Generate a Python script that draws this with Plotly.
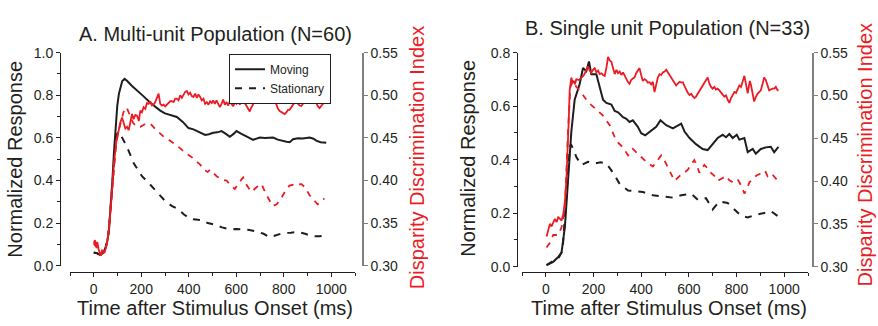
import plotly.graph_objects as go

# ---------------- Panel A: Multi-unit population ----------------
a_mov_t = [0, 15, 28, 40, 50, 58, 64, 71, 78, 85, 92, 99, 106, 113, 120, 130, 140, 160, 182, 210, 238, 260,
           280, 300, 322, 350, 375, 399, 420, 434, 450, 469, 485, 503, 520, 538, 555, 573, 590, 601, 620,
           636, 655, 671, 685, 699, 720, 740, 755, 775, 797, 812, 825, 839, 860, 880, 909, 925, 937, 955, 979]
a_mov_r = [0.062, 0.058, 0.050, 0.060, 0.085, 0.120, 0.168, 0.270, 0.390, 0.530, 0.660, 0.750, 0.808, 0.845,
           0.867, 0.877, 0.868, 0.845, 0.825, 0.795, 0.765, 0.745, 0.728, 0.715, 0.706, 0.698, 0.675, 0.646,
           0.640, 0.632, 0.622, 0.614, 0.617, 0.624, 0.626, 0.632, 0.620, 0.605, 0.620, 0.632, 0.620, 0.609,
           0.600, 0.591, 0.598, 0.602, 0.600, 0.603, 0.602, 0.592, 0.584, 0.582, 0.580, 0.594, 0.598, 0.597,
           0.602, 0.596, 0.587, 0.580, 0.577]

a_sta_t = [0, 15, 28, 40, 50, 58, 64, 71, 78, 85, 92, 99, 105, 120, 141, 169, 203, 230, 252, 280, 301, 330,
           356, 380, 406, 430, 455, 480, 503, 540, 573, 600, 628, 655, 685, 715, 741, 770, 796, 830, 859,
           890, 922, 950, 971]
a_sta_r = [0.062, 0.058, 0.050, 0.060, 0.085, 0.120, 0.168, 0.270, 0.390, 0.500, 0.580, 0.620, 0.630, 0.600,
           0.555, 0.480, 0.420, 0.390, 0.362, 0.330, 0.303, 0.280, 0.265, 0.240, 0.220, 0.217, 0.214, 0.200,
           0.194, 0.180, 0.171, 0.172, 0.171, 0.168, 0.161, 0.150, 0.134, 0.145, 0.153, 0.155, 0.158, 0.150,
           0.138, 0.138, 0.141]

a_mov_ddi_t = [0, 5, 10, 15, 20, 28, 35, 45, 55, 65, 75, 85, 95, 105, 112, 119, 126, 133, 140, 147, 154, 161,
               168, 175, 182, 190, 196, 203, 210, 217, 224, 231, 238, 245, 252, 259, 266, 273, 280, 287, 294,
               301, 308, 315, 322, 329, 336, 343, 350, 357, 364, 371, 378, 385, 392, 399, 406, 413, 420, 427,
               434, 441, 448, 455, 462, 469, 476, 483, 490, 497, 503, 510, 517, 524, 531, 538, 545, 552, 559,
               566, 573, 580, 587, 594, 601, 608, 615, 622, 629, 636, 643, 650, 657, 664, 671, 678, 685, 692,
               699, 706, 713, 720, 727, 734, 741, 748, 755, 762, 769, 776, 783, 790, 797, 804, 811, 818, 825,
               832, 839, 846, 853, 860, 867, 874, 881, 888, 895, 902, 909, 916, 923, 930, 937, 944, 951, 958,
               965, 972, 979]
a_mov_ddi = [0.326, 0.330, 0.322, 0.328, 0.320, 0.312, 0.318, 0.315, 0.325, 0.345, 0.380, 0.420, 0.445, 0.459,
             0.468, 0.474, 0.467, 0.461, 0.463, 0.459, 0.468, 0.478, 0.472, 0.477, 0.476, 0.470, 0.482, 0.480,
             0.486, 0.484, 0.491, 0.490, 0.493, 0.488, 0.489, 0.492, 0.497, 0.502, 0.490, 0.488, 0.489, 0.487,
             0.489, 0.491, 0.493, 0.493, 0.492, 0.496, 0.496, 0.494, 0.500, 0.497, 0.501, 0.504, 0.505, 0.501,
             0.503, 0.499, 0.498, 0.502, 0.497, 0.501, 0.498, 0.494, 0.496, 0.490, 0.492, 0.489, 0.493, 0.491,
             0.494, 0.490, 0.494, 0.489, 0.486, 0.490, 0.495, 0.489, 0.492, 0.488, 0.493, 0.490, 0.487, 0.492,
             0.490, 0.493, 0.489, 0.493, 0.495, 0.491, 0.488, 0.485, 0.481, 0.486, 0.490, 0.493, 0.496, 0.498,
             0.500, 0.497, 0.499, 0.502, 0.500, 0.496, 0.498, 0.501, 0.497, 0.495, 0.489, 0.484, 0.4815, 0.480,
             0.479, 0.478, 0.480, 0.483, 0.483, 0.487, 0.489, 0.491, 0.493, 0.490, 0.488, 0.4875, 0.490, 0.494,
             0.493, 0.4945, 0.491, 0.495, 0.493, 0.495, 0.490, 0.487, 0.485, 0.488, 0.490, 0.491, 0.4935]

a_sta_ddi_t = [0, 10, 20, 28, 40, 55, 65, 75, 85, 95, 105, 115, 125, 138, 150, 165, 180, 196, 215, 238, 260,
               280, 300, 320, 336, 355, 375, 392, 410, 434, 450, 462, 480, 490, 517, 540, 559, 575, 594, 610,
               629, 645, 664, 685, 706, 727, 740, 754, 770, 789, 805, 824, 840, 853, 873, 890, 908, 925, 943,
               960, 971]
a_sta_ddi = [0.326, 0.322, 0.320, 0.312, 0.316, 0.325, 0.345, 0.380, 0.420, 0.445, 0.459, 0.470, 0.480, 0.486,
             0.478, 0.468, 0.463, 0.463, 0.466, 0.467, 0.460, 0.455, 0.450, 0.447, 0.444, 0.440, 0.435, 0.431,
             0.428, 0.422, 0.418, 0.4127, 0.410, 0.4127, 0.405, 0.401, 0.400, 0.395, 0.390, 0.397, 0.4035, 0.394,
             0.3867, 0.392, 0.396, 0.383, 0.376, 0.370, 0.372, 0.379, 0.387, 0.394, 0.395, 0.394, 0.396, 0.392,
             0.383, 0.378, 0.372, 0.376, 0.379]

# ---------------- Panel B: Single unit population ----------------
b_mov_t = [3, 31, 52, 66, 80, 93, 107, 121, 142, 156, 170, 181, 191, 212, 226, 240, 254, 275, 289, 303, 324,
           338, 351, 365, 386, 400, 417, 435, 463, 481, 505, 533, 568, 582, 603, 630, 658, 679, 700, 721, 742,
           756, 770, 784, 801, 812, 833, 847, 868, 881, 902, 923, 944, 958, 976]
b_mov_r = [0.006, 0.018, 0.036, 0.053, 0.149, 0.327, 0.505, 0.624, 0.683, 0.743, 0.731, 0.767, 0.719, 0.719,
           0.672, 0.624, 0.612, 0.606, 0.582, 0.577, 0.559, 0.553, 0.541, 0.547, 0.523, 0.499, 0.491, 0.505,
           0.523, 0.547, 0.529, 0.517, 0.535, 0.505, 0.481, 0.458, 0.440, 0.436, 0.458, 0.481, 0.493, 0.484,
           0.496, 0.481, 0.493, 0.475, 0.481, 0.428, 0.440, 0.422, 0.440, 0.446, 0.448, 0.428, 0.448]

b_sta_t = [3, 30, 55, 70, 86, 100, 105, 115, 128, 149, 177, 205, 230, 254, 282, 310, 345, 372, 407, 449, 491,
           533, 568, 610, 638, 672, 700, 728, 763, 784, 819, 847, 881, 923, 944, 976]
b_sta_r = [0.006, 0.020, 0.035, 0.060, 0.268, 0.440, 0.458, 0.440, 0.410, 0.380, 0.392, 0.386, 0.390, 0.386,
           0.351, 0.309, 0.285, 0.282, 0.279, 0.267, 0.262, 0.258, 0.267, 0.273, 0.250, 0.256, 0.214, 0.244,
           0.238, 0.220, 0.190, 0.184, 0.194, 0.202, 0.208, 0.187]

b_mov_ddi_t = [3, 17, 24, 38, 45, 52, 59, 66, 73, 80, 86, 91, 96, 100, 107, 112, 117, 122, 128, 138, 149, 158,
               167, 177, 184, 191, 198, 205, 212, 219, 226, 233, 240, 247, 254, 261, 268, 275, 282, 289, 296,
               303, 310, 317, 324, 331, 338, 344, 351, 358, 365, 372, 379, 386, 393, 400, 407, 414, 421, 428,
               435, 442, 449, 456, 463, 470, 477, 484, 491, 498, 505, 512, 519, 526, 533, 540, 547, 554, 561,
               568, 575, 582, 589, 596, 603, 610, 617, 624, 630, 637, 644, 651, 658, 665, 672, 679, 686, 693,
               700, 707, 714, 721, 728, 735, 742, 749, 756, 763, 770, 777, 784, 791, 798, 805, 812, 819, 826,
               833, 840, 847, 852, 856, 861, 866, 874, 881, 888, 895, 902, 909, 916, 923, 930, 937, 944, 951,
               958, 965, 970, 976]
b_mov_ddi = [0.3353, 0.350, 0.347, 0.3557, 0.352, 0.3576, 0.356, 0.3539, 0.3613, 0.376, 0.400, 0.428, 0.470,
             0.506, 0.521, 0.515, 0.5173, 0.513, 0.519, 0.518, 0.521, 0.523, 0.528, 0.534, 0.529, 0.5266, 0.530,
             0.532, 0.527, 0.529, 0.525, 0.526, 0.524, 0.523, 0.532, 0.545, 0.541, 0.5395, 0.532, 0.525, 0.530,
             0.526, 0.528, 0.524, 0.527, 0.523, 0.519, 0.516, 0.5136, 0.518, 0.520, 0.521, 0.526, 0.530, 0.532,
             0.524, 0.517, 0.519, 0.518, 0.515, 0.5155, 0.513, 0.516, 0.504, 0.512, 0.521, 0.525, 0.524, 0.527,
             0.528, 0.530, 0.527, 0.523, 0.521, 0.518, 0.514, 0.5117, 0.514, 0.516, 0.515, 0.5155, 0.511, 0.506,
             0.503, 0.5006, 0.502, 0.499, 0.497, 0.4987, 0.502, 0.505, 0.508, 0.512, 0.516, 0.519, 0.521, 0.514,
             0.510, 0.508, 0.510, 0.507, 0.508, 0.506, 0.504, 0.501, 0.4987, 0.500, 0.495, 0.4913, 0.497, 0.500,
             0.504, 0.503, 0.508, 0.5117, 0.510, 0.517, 0.523, 0.513, 0.5025, 0.511, 0.517, 0.512, 0.503, 0.493,
             0.498, 0.502, 0.504, 0.506, 0.513, 0.521, 0.518, 0.512, 0.506, 0.507, 0.508, 0.508, 0.510, 0.507,
             0.5055]

b_sta_ddi_t = [3, 17, 31, 52, 66, 80, 93, 103, 114, 128, 142, 156, 170, 190, 212, 226, 240, 254, 268, 282, 296,
               310, 324, 345, 365, 393, 421, 449, 466, 484, 498, 512, 526, 540, 554, 568, 582, 596, 609, 623,
               637, 644, 654, 665, 679, 693, 707, 721, 738, 756, 770, 784, 798, 805, 819, 833, 843, 854, 868,
               881, 895, 909, 920, 930, 940, 951, 965, 976]
b_sta_ddi = [0.3223, 0.3279, 0.337, 0.337, 0.346, 0.369, 0.458, 0.510, 0.517, 0.510, 0.506, 0.500, 0.495, 0.489,
             0.484, 0.480, 0.4765, 0.471, 0.4653, 0.456, 0.4467, 0.443, 0.4393, 0.430, 0.4375, 0.430, 0.4226,
             0.417, 0.423, 0.430, 0.424, 0.4152, 0.408, 0.4003, 0.404, 0.4077, 0.410, 0.4133, 0.419, 0.4245,
             0.416, 0.4096, 0.414, 0.4189, 0.415, 0.4096, 0.406, 0.4003, 0.403, 0.4059, 0.401, 0.3985, 0.401,
             0.402, 0.395, 0.3855, 0.390, 0.3985, 0.402, 0.4059, 0.408, 0.4096, 0.412, 0.4059, 0.409, 0.4077,
             0.403, 0.4003]

# ---------------- Text ----------------
title_a = "A. Multi-unit Population (N=60)"
title_b = "B. Single unit Population (N=33)"
x_title = "Time after Stimulus Onset (ms)"
y_title = "Normalized Response"
y2_title = "Disparity Discrimination Index"

BLACK = "#1e1e1e"
RED = "#ec1c24"
GREY = "#808080"
TXT = "#231f20"
FONT = "Liberation Sans, Arial, sans-serif"
DASH_K = "7px,7px"
DASH_R = "6px,6px"

W, H = 878, 326
def fx(px):
    return px / W
def fy(py):
    return 1 - py / H

fig = go.Figure()

def add(t, v, xa, ya, color, dash, name=None, show=False, width=2):
    fig.add_trace(go.Scatter(x=t, y=v, xaxis=xa, yaxis=ya, mode="lines",
                             line=dict(color=color, width=width, dash=dash),
                             name=name, showlegend=show, hoverinfo="skip"))

add(a_mov_t, a_mov_r, "x", "y", BLACK, "solid", "Moving", True)
add(a_sta_t, a_sta_r, "x", "y", BLACK, DASH_K, "Stationary", True)
add(a_mov_ddi_t, a_mov_ddi, "x", "y2", RED, "solid", width=1.8)
add(a_sta_ddi_t, a_sta_ddi, "x", "y2", RED, DASH_R, width=1.8)

add(b_mov_t, b_mov_r, "x2", "y3", BLACK, "solid")
add(b_sta_t, b_sta_r, "x2", "y3", BLACK, DASH_K)
add(b_mov_ddi_t, b_mov_ddi, "x2", "y4", RED, "solid", width=1.8)
add(b_sta_ddi_t, b_sta_ddi, "x2", "y4", RED, DASH_R, width=1.8)

tickfont = dict(family=FONT, size=14, color=TXT)

def xaxis(dom):
    return dict(domain=dom, range=[-100, 1100], anchor="free", position=fy(278),
                showline=True, linecolor=TXT, linewidth=1, ticks="outside", ticklen=4,
                tickcolor=TXT, tick0=0, dtick=200, showgrid=False, zeroline=False,
                minor=dict(dtick=100, tick0=0, ticks="outside", ticklen=3, tickcolor=TXT, showgrid=False),
                tickfont=tickfont)

def yleft(dom, pos, rng):
    return dict(domain=dom, range=rng, anchor="free", position=pos, showline=True,
                linecolor=TXT, linewidth=1, ticks="outside", ticklen=4, tickcolor=TXT,
                tick0=0, dtick=0.2, tickformat=".1f", showgrid=False, zeroline=False,
                minor=dict(dtick=0.1, ticks="outside", ticklen=3, tickcolor=TXT, showgrid=False),
                tickfont=tickfont)

def yright(over, pos):
    return dict(overlaying=over, side="right", anchor="free", position=pos, range=[0.30, 0.55],
                showline=True, linecolor=GREY, linewidth=1.5, ticks="outside", ticklen=4,
                tickcolor=GREY, tick0=0.30, dtick=0.05, tickformat=".2f", showgrid=False,
                zeroline=False, tickfont=tickfont)

fig.update_layout(
    width=W, height=H, margin=dict(l=0, r=0, t=0, b=0),
    paper_bgcolor="white", plot_bgcolor="white",
    font=dict(family=FONT, color=TXT),
    xaxis=xaxis([fx(70), fx(355)]),
    yaxis=yleft([fy(271), fy(47)], fx(60), [0, 1.0]),
    yaxis2=yright("y", fx(363)),
    xaxis2=xaxis([fx(522), fx(808)]),
    yaxis3=yleft([fy(272), fy(47)], fx(517), [0, 0.8]),
    yaxis4=yright("y3", fx(813)),
    legend=dict(x=fx(331), y=fy(48), xanchor="right", yanchor="top", bgcolor="white",
                bordercolor=TXT, borderwidth=1, font=dict(family=FONT, size=12, color=TXT),
                tracegroupgap=0, itemwidth=30),
    showlegend=True,
)

ann = [
    (title_a, fx(215), fy(27), 0, TXT),
    (title_b, fx(667), fy(21), 0, TXT),
    (x_title, fx(215), fy(315), 0, TXT),
    (x_title, fx(669), fy(315), 0, TXT),
    (y_title, fx(15), fy(159.5), -90, TXT),
    (y_title, fx(468), fy(158.5), -90, TXT),
    (y2_title, fx(417), fy(158), -90, RED),
    (y2_title, fx(865), fy(155), -90, RED),
]
for text, x, y, ang, col in ann:
    fig.add_annotation(text=text, x=x, y=y, xref="paper", yref="paper", showarrow=False,
                       textangle=ang, xanchor="center", yanchor="middle",
                       font=dict(family=FONT, size=20, color=col))

fig.write_html("out.html")
